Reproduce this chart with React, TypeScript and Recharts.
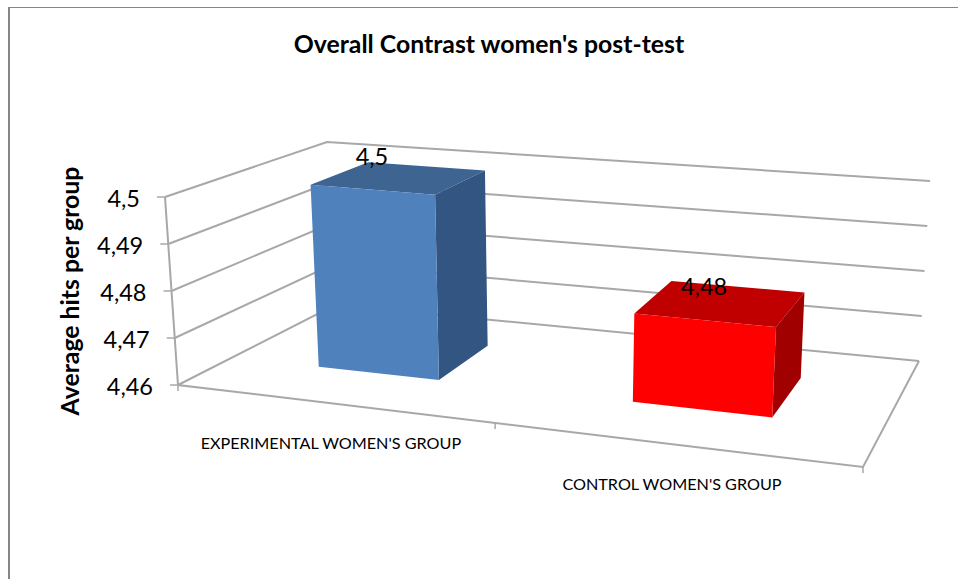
import { Bar, BarChart, CartesianGrid, XAxis, YAxis } from 'recharts';

const categories = ["EXPERIMENTAL WOMEN'S GROUP", "CONTROL WOMEN'S GROUP"];
const averageHits = [4.5, 4.4785];
const valueTicks = [4.46, 4.47, 4.48, 4.49, 4.5];
const valueDomain = [4.46, 4.5];
const frontColors = ['#4f81bd', '#ff0000'];
const topColors = ['#3e6491', '#c00000'];
const sideColors = ['#335582', '#a00000'];

const data = categories.map((group, i) => ({ group, hits: averageHits[i] }));

// flat plot box recharts lays out, everything is then projected onto the 3D box
const PLOT = { left: 100, top: 100, width: 700, height: 400 };
const FRONT = { tl: [165, 197], tr: [876, 258], br: [863, 467], bl: [178, 385] };
const BACK = { tl: [327, 142], tr: [930, 181], br: [919, 361], bl: [335, 305] };
const FORESHORTEN = 1.16;
const BAR_DEPTH = [0.35, 0.74];
const GRID = '#a8a8a8';
const FONT = 'Lato, sans-serif';

const lerp = (a: number, b: number, t: number) => a + (b - a) * t;

const project = (u: number, v: number, d: number) => {
  const w = u / (u + FORESHORTEN * (1 - u));
  const onFace = (q: typeof FRONT, i: number) =>
    lerp(lerp(q.bl[i], q.br[i], w), lerp(q.tl[i], q.tr[i], w), v);
  return [lerp(onFace(FRONT, 0), onFace(BACK, 0), d), lerp(onFace(FRONT, 1), onFace(BACK, 1), d)];
};

const toU = (x: number) => (x - PLOT.left) / PLOT.width;
const toV = (y: number) => 1 - (y - PLOT.top) / PLOT.height;
const pts = (list: number[][]) => list.map((p) => p.join(',')).join(' ');
const decimalComma = (value: number) => String(Number(value.toFixed(2))).replace('.', ',');

const GridLine = (props: any) => {
  const v = toV(props.y1);
  const isFloor = Math.abs(v) < 0.001;
  const line = { fill: 'none', stroke: GRID, strokeWidth: 2 };
  return (
    <g key={props.key}>
      <polyline {...line} points={pts([project(0, v, 0), project(0, v, 1), project(1, v, 1)])} />
      {isFloor && (
        <>
          <polyline {...line} points={pts([project(0, 1, 0), project(0, 0, 0), project(1, 0, 0), project(1, 0, 1)])} />
          {[0, 0.5, 1].map((u) => {
            const [x, y] = project(u, 0, 0);
            return <line key={u} x1={x} y1={y} x2={x} y2={y + 6} stroke={GRID} strokeWidth={1.5} />;
          })}
        </>
      )}
    </g>
  );
};

const Box3D = (props: any) => {
  const { x, y, width, height, index } = props;
  const u0 = toU(x);
  const u1 = toU(x + width);
  const vTop = toV(y);
  const vBase = toV(y + height);
  const [d0, d1] = BAR_DEPTH;
  return (
    <g>
      <polygon fill={topColors[index]} points={pts([project(u0, vTop, d0), project(u0, vTop, d1), project(u1, vTop, d1), project(u1, vTop, d0)])} />
      <polygon fill={sideColors[index]} points={pts([project(u1, vTop, d0), project(u1, vTop, d1), project(u1, vBase, d1), project(u1, vBase, d0)])} />
      <polygon fill={frontColors[index]} points={pts([project(u0, vTop, d0), project(u1, vTop, d0), project(u1, vBase, d0), project(u0, vBase, d0)])} />
    </g>
  );
};

const BarValue = (props: any) => {
  const { x, y, width, value } = props;
  const [px, py] = project(toU(x + width / 2), toV(y), BAR_DEPTH[0]);
  return (
    <text x={px} y={py - 34} textAnchor="middle" dominantBaseline="central" fontFamily={FONT} fontSize={23.5} fill="#000">
      {decimalComma(value)}
    </text>
  );
};

const ValueTick = (props: any) => {
  const [x, y] = project(0, toV(props.y), 0);
  return (
    <g>
      <line x1={x - 8} y1={y} x2={x} y2={y} stroke={GRID} strokeWidth={1.5} />
      <text x={x - 25} y={y + 1} textAnchor="end" dominantBaseline="central" fontFamily={FONT} fontSize={23.5} fill="#000">
        {decimalComma(props.payload.value)}
      </text>
    </g>
  );
};

const GroupTick = (props: any) => {
  const [x, y] = project(toU(props.x), 0, 0);
  return (
    <text x={x} y={y + 39} textAnchor="middle" dominantBaseline="central" fontFamily={FONT} fontSize={16.2} fill="#000">
      {props.payload.value}
    </text>
  );
};

export default function App() {
  return (
    <div style={{ position: 'absolute', left: 0, top: 0, width: 958, height: 579, background: '#fff' }}>
      <div style={{ position: 'absolute', left: 8, top: 7, right: 0, bottom: 0, borderLeft: '2px solid #868686', borderTop: '1px solid #868686' }} />
      <div style={{ position: 'absolute', left: 0, top: 0 }}>
        <BarChart
          width={958}
          height={579}
          data={data}
          barSize={140}
          margin={{ left: PLOT.left - 1, top: PLOT.top, right: 958 - PLOT.left - PLOT.width, bottom: 579 - PLOT.top - PLOT.height - 1 }}
        >
          <text x={489} y={53} textAnchor="middle" fontFamily={FONT} fontWeight={700} fontSize={24.8} fill="#000">
            Overall Contrast women's post-test
          </text>
          <text transform="translate(79 291) rotate(-90)" textAnchor="middle" fontFamily={FONT} fontWeight={700} fontSize={24.8} fill="#000">
            Average hits per group
          </text>
          <CartesianGrid horizontal={GridLine} vertical={false} />
          <XAxis dataKey="group" height={1} axisLine={false} tickLine={false} interval={0} tick={GroupTick} />
          <YAxis width={1} domain={valueDomain} ticks={valueTicks} axisLine={false} tickLine={false} interval={0} tick={ValueTick} />
          <Bar dataKey="hits" isAnimationActive={false} shape={Box3D} label={BarValue} />
        </BarChart>
      </div>
    </div>
  );
}
